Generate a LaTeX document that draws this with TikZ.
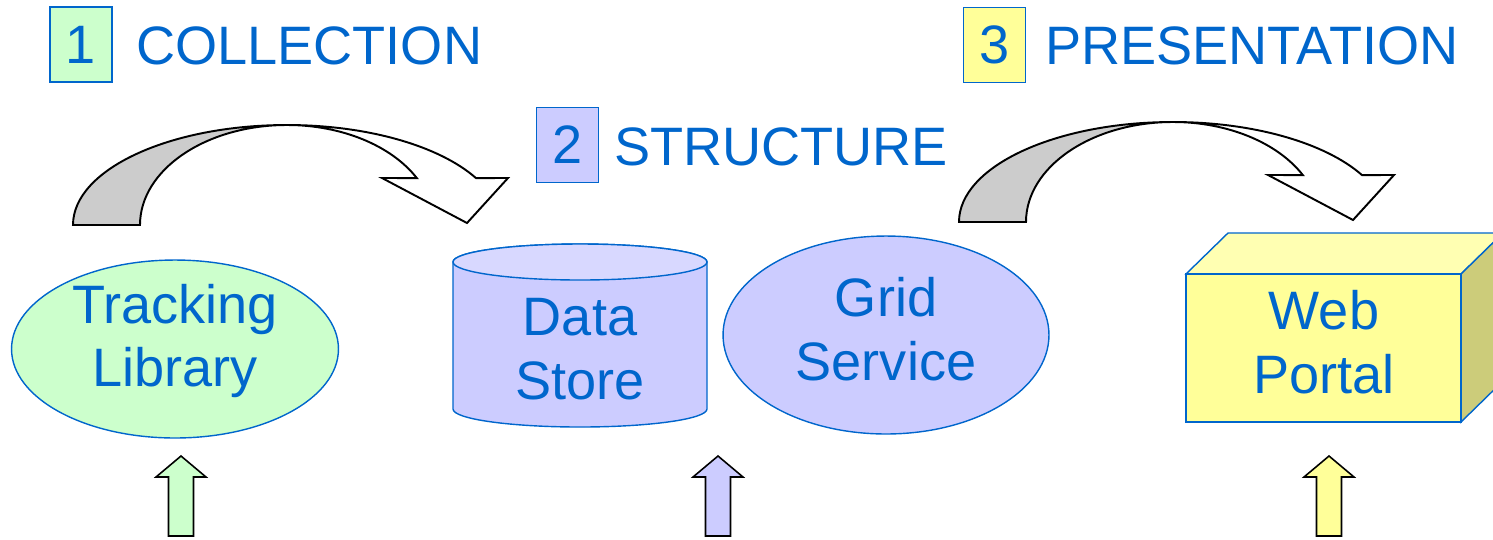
\documentclass[tikz,border=0pt]{standalone}
\usepackage{fontspec}
\setmainfont{Liberation Sans}
\usepackage{xcolor}
\definecolor{inkblue}{RGB}{0,102,204}
\definecolor{collectfill}{RGB}{204,255,204}
\definecolor{structfill}{RGB}{204,204,255}
\definecolor{structtop}{RGB}{216,216,255}
\definecolor{presentfill}{RGB}{255,255,153}
\definecolor{presenttop}{RGB}{255,255,178}
\definecolor{presentside}{RGB}{204,204,122}
\colorlet{bendshade}{black!20}
\usepackage{tikz}
\usetikzlibrary{shapes.geometric}

\begin{document}
\begin{tikzpicture}[
  x=0.02cm, y=0.02cm,
  font=\fontsize{30.8}{36.4}\selectfont,
  numbox/.style={
    rectangle, draw=inkblue, fill=#1, text=inkblue,
    minimum width=1.24cm, minimum height=1.5cm,
    inner sep=0pt, line width=0.8pt
  },
  heading/.style={anchor=base west, text=inkblue, inner sep=0pt},
  blob/.style={ellipse, draw=inkblue, fill=#1, inner sep=0pt, line width=0.8pt},
  lbl/.style={align=center, text=inkblue, inner sep=0pt},
  shell/.style={draw=inkblue, line width=0.8pt},
  outline/.style={draw=black, line width=0.9pt},
  % small input arrow, tip at the pic origin
  pics/inarrow/.style={code={
    \draw[outline, fill=#1] (0,0) -- (25,-21) -- (12.5,-21) -- (12.5,-80)
      -- (-12.5,-80) -- (-12.5,-21) -- (-25,-21) -- cycle;
  }},
  % curved step arrow, origin at the centre of its arcs
  pics/bendarrow/.style={code={
    \draw[outline, line width=1.1pt, fill=bendshade] (-214,0)
      arc[start angle=180, end angle=90, x radius=214, y radius=100]
      arc[start angle=90, end angle=180, x radius=147, y radius=100] -- cycle;
    \draw[outline, line width=1.1pt, fill=white] (0,100)
      arc[start angle=90, end angle=28, x radius=214, y radius=100]
      -- (221,47) -- (180,2) -- (95,47) -- (129.8,46.95)
      arc[start angle=28, end angle=90, x radius=147, y radius=100] -- cycle;
  }}
]
\useasboundingbox (0,0) rectangle (1493,-539);

% stage headings
\node[numbox=collectfill] (num1) at (81,-44.5) {1};
\node[heading] (collect) at (136,-64) {COLLECTION};
\node[numbox=structfill] (num2) at (567.5,-145) {2};
\node[heading] (struct) at (614,-165) {STRUCTURE};
\node[numbox=presentfill] (num3) at (994.5,-45) {3};
\node[heading] (present) at (1045,-64) {PRESENTATION};

\pic at (287,-225) {bendarrow};
\pic at (1173,-222) {bendarrow};

% collection
\node[blob=collectfill, minimum width=6.54cm, minimum height=3.56cm] (trk) at (175,-349) {};
\node[lbl] (trklbl) at (175,-341) {Tracking\\Library};

% structure: store cylinder and grid service
\path[shell, fill=structfill] (453,-262) -- (453,-409)
  arc[start angle=180, end angle=360, x radius=127, y radius=18]
  -- (707,-262) arc[start angle=0, end angle=180, x radius=127, y radius=18] -- cycle;
\path[shell, fill=structtop] (580,-262) ellipse[x radius=127, y radius=18];
\node[lbl] (storelbl) at (580,-349.5) {Data\\Store};

\node[blob=structfill, minimum width=6.52cm, minimum height=3.96cm] (grid) at (886,-335) {};
\node[lbl] (gridlbl) at (886,-329.5) {Grid\\Service};

% presentation box
\path[shell, fill=presenttop] (1186,-274) -- (1228,-233) -- (1503,-233) -- (1461,-274) -- cycle;
\path[shell, fill=presentside] (1461,-274) -- (1503,-233) -- (1503,-381) -- (1461,-422) -- cycle;
\path[shell, fill=presentfill] (1186,-274) rectangle (1461,-422);
\node[lbl] (portallbl) at (1324,-342.5) {Web\\Portal};

% inputs
\pic at (181,-456) {inarrow=collectfill};
\pic at (718,-456) {inarrow=structfill};
\pic at (1329,-456) {inarrow=presentfill};
\end{tikzpicture}
\end{document}
